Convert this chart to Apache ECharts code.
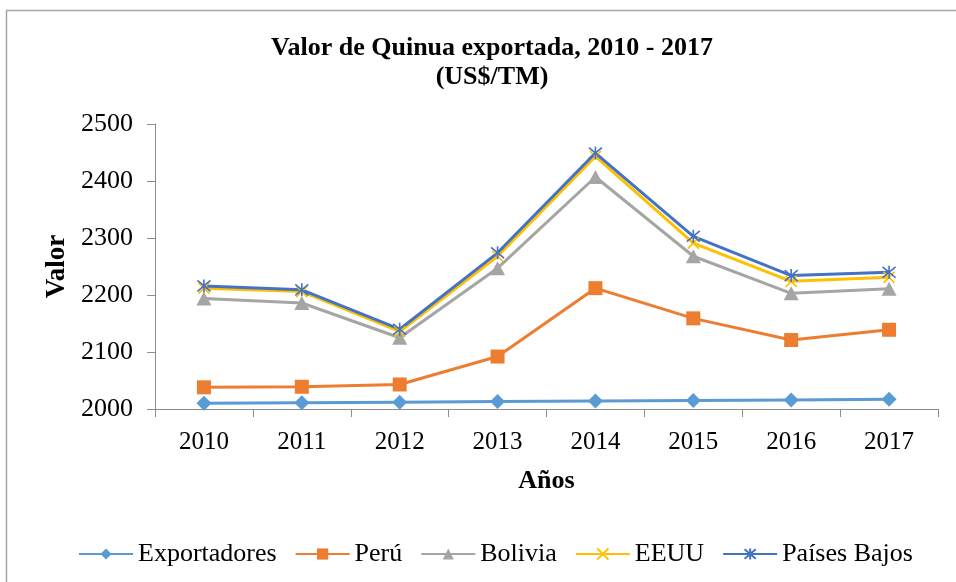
<!DOCTYPE html>
<html>
<head>
<meta charset="utf-8">
<script src="https://cdn.jsdelivr.net/npm/echarts@6/dist/echarts.min.js"></script>
<style>html,body{margin:0;padding:0;background:#fff}#c{width:956px;height:582px}</style>
</head>
<body>
<div id="c"></div>
<script>
const years = ['2010','2011','2012','2013','2014','2015','2016','2017'];
const exportadores = [2010, 2011, 2012, 2013, 2014, 2015, 2016, 2017];
const peru = [2038, 2039, 2043, 2092, 2212, 2159, 2121, 2139];
const bolivia = [2194, 2186, 2125, 2247, 2407, 2268, 2203, 2211];
const eeuu = [2212, 2206, 2136, 2268, 2443, 2291, 2224, 2231];
const paisesBajos = [2216, 2209, 2140, 2274, 2449, 2303, 2234, 2240];
const yTicks = {min: 2000, max: 2500, interval: 100};

const FONT = "'Liberation Serif', 'Times New Roman', serif";
const X_PATH = 'path://M0,0L10,10M10,0L0,10';
const STAR_PATH = 'path://M0,0L10,10M10,0L0,10M5,-1L5,11';

function mk(name, data, color, symbol, size, strokeMarker) {
  return {
    name: name, type: 'line', data: data,
    symbol: symbol, symbolSize: size,
    lineStyle: {color: color, width: 3},
    itemStyle: strokeMarker ? {color: color, borderColor: color, borderWidth: 1.6} : {color: color, borderWidth: 0},
    emphasis: {disabled: true},
    animation: false
  };
}

const chart = echarts.init(document.getElementById('c'), null, {renderer: 'canvas'});
chart.setOption({
  backgroundColor: '#fff',
  animation: false,
  graphic: [{
    type: 'rect', shape: {x: 6.5, y: 10.5, width: 1000, height: 700},
    style: {fill: 'none', stroke: '#a6a6a6', lineWidth: 1.5}, silent: true, z: -1
  }],
  title: {
    text: 'Valor de Quinua exportada, 2010 - 2017\n(US$/TM)',
    left: 487, top: 29, textAlign: 'center',
    textStyle: {fontFamily: FONT, fontSize: 26, fontWeight: 'bold', color: '#000', lineHeight: 29}
  },
  legend: {
    left: 73, top: 536,
    itemWidth: 54, itemHeight: 14, itemGap: 18,
    textStyle: {fontFamily: FONT, fontSize: 26, color: '#000'},
    data: ['Exportadores', 'Perú', 'Bolivia', 'EEUU', 'Países Bajos']
  },
  grid: {left: 155, right: 18, top: 124, bottom: 173},
  xAxis: {
    type: 'category', data: years, boundaryGap: true,
    name: 'Años', nameLocation: 'middle', nameGap: 59,
    nameTextStyle: {fontFamily: FONT, fontSize: 26, fontWeight: 'bold', color: '#000'},
    axisLine: {lineStyle: {color: '#8c8c8c', width: 1}},
    axisTick: {show: true, length: 8, lineStyle: {color: '#8c8c8c'}},
    axisLabel: {fontFamily: FONT, fontSize: 25, color: '#000', margin: 21},
    splitLine: {show: false}
  },
  yAxis: {
    type: 'value', min: yTicks.min, max: yTicks.max, interval: yTicks.interval,
    name: 'Valor', nameLocation: 'middle', nameGap: 82, nameRotate: 90,
    nameTextStyle: {fontFamily: FONT, fontSize: 27, fontWeight: 'bold', color: '#000'},
    axisLine: {show: true, lineStyle: {color: '#8c8c8c', width: 1}},
    axisTick: {show: true, length: 8, lineStyle: {color: '#8c8c8c'}},
    axisLabel: {fontFamily: FONT, fontSize: 26, color: '#000', margin: 22, formatter: function (v) { return String(v); }},
    splitLine: {show: false}
  },
  series: [
    mk('Exportadores', exportadores, '#5B9BD5', 'diamond', [15, 15], false),
    mk('Perú', peru, '#ED7D31', 'rect', 14, false),
    mk('Bolivia', bolivia, '#A5A5A5', 'triangle', [15, 14], false),
    mk('EEUU', eeuu, '#FFC000', X_PATH, 11, true),
    mk('Países Bajos', paisesBajos, '#4472C4', STAR_PATH, 13, true)
  ]
});
</script>
</body>
</html>
